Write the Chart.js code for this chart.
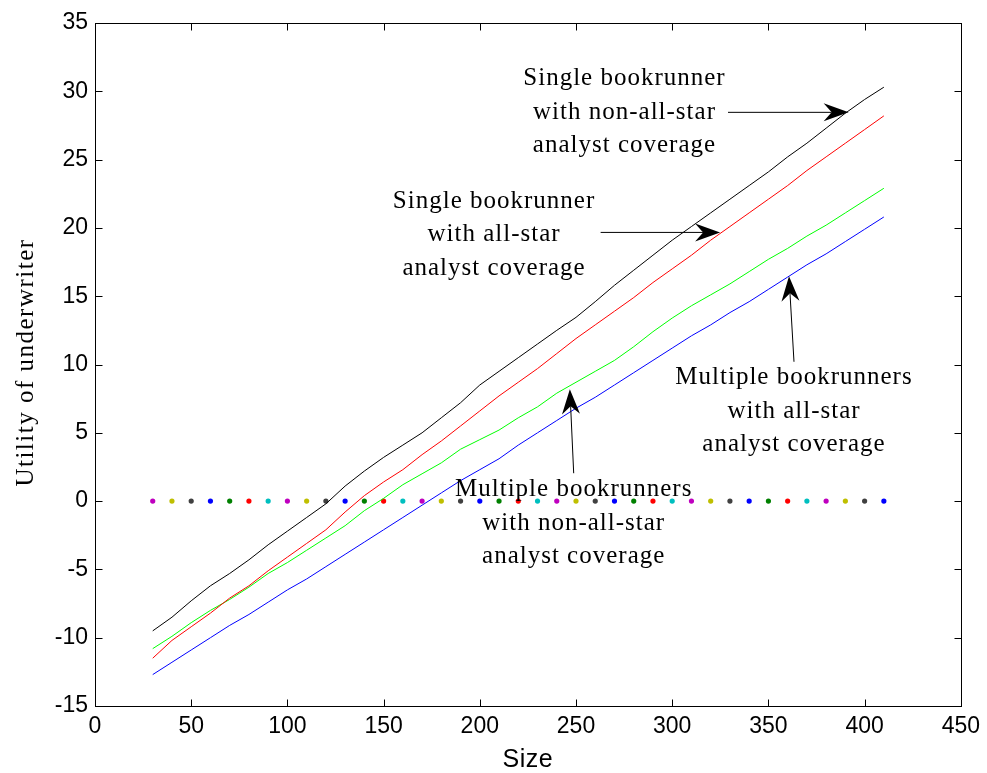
<!DOCTYPE html>
<html>
<head>
<meta charset="utf-8">
<script src="https://cdn.jsdelivr.net/npm/chart.js@4.4.0/dist/chart.umd.min.js"></script>
<style>
  html, body { margin: 0; padding: 0; background: #fff; }
  #wrap { width: 987px; height: 773px; }
</style>
</head>
<body>
<div id="wrap"><canvas id="c" width="987" height="773"></canvas></div>
<script>
// Offering size (x) and utility of the underwriter for each deal structure
const sizes = [30, 40, 50, 60, 70, 80, 90, 100, 110, 120, 130, 140, 150, 160, 170, 180, 190, 200, 210, 220,
               230, 240, 250, 260, 270, 280, 290, 300, 310, 320, 330, 340, 350, 360, 370, 380, 390, 400, 410];

const singleNonAllStar = [-9.5, -8.5, -7.3, -6.2, -5.3, -4.3, -3.2, -2.2, -1.2, -0.2, 1.1, 2.2, 3.2, 4.1, 5.0, 6.1, 7.2, 8.5, 9.5, 10.5,
                          11.5, 12.5, 13.45, 14.6, 15.8, 16.9, 18.0, 19.1, 20.1, 21.1, 22.1, 23.1, 24.1, 25.2, 26.2, 27.3, 28.4, 29.4, 30.3];

const singleAllStar = [-11.5, -10.2, -9.2, -8.2, -7.1, -6.2, -5.1, -4.1, -3.1, -2.1, -0.8, 0.4, 1.4, 2.3, 3.4, 4.4, 5.5, 6.6, 7.7, 8.7,
                       9.7, 10.8, 11.9, 12.9, 13.9, 14.9, 16.0, 17.0, 18.0, 19.1, 20.1, 21.1, 22.1, 23.1, 24.2, 25.2, 26.2, 27.2, 28.2];

const multipleNonAllStar = [-10.8, -9.9, -8.9, -8.0, -7.2, -6.3, -5.3, -4.5, -3.6, -2.7, -1.8, -0.7, 0.2, 1.2, 2.0, 2.8, 3.8, 4.5, 5.2, 6.1,
                            6.9, 7.9, 8.7, 9.5, 10.3, 11.3, 12.4, 13.4, 14.3, 15.1, 15.9, 16.8, 17.7, 18.5, 19.4, 20.2, 21.1, 22.0, 22.9];

const multipleAllStar = [-12.7, -11.8, -10.9, -10.0, -9.1, -8.3, -7.4, -6.5, -5.7, -4.8, -3.9, -3.0, -2.1, -1.2, -0.3, 0.6, 1.5, 2.3, 3.1, 4.1,
                         5.0, 5.9, 6.8, 7.6, 8.5, 9.4, 10.3, 11.2, 12.1, 12.9, 13.8, 14.6, 15.5, 16.4, 17.3, 18.1, 19.0, 19.9, 20.8];

// Break-even reference markers along zero utility
const zeroLine = [0, 0, 0, 0, 0, 0, 0, 0, 0, 0, 0, 0, 0, 0, 0, 0, 0, 0, 0, 0,
                  0, 0, 0, 0, 0, 0, 0, 0, 0, 0, 0, 0, 0, 0, 0, 0, 0, 0, 0];

const xTicks = [0, 50, 100, 150, 200, 250, 300, 350, 400, 450];
const yTicks = [-15, -10, -5, 0, 5, 10, 15, 20, 25, 30, 35];

// Callout texts: lines, text anchor (middle line) and arrow start/tip, all in data units
const callouts = [
  { lines: ['Single bookrunner', 'with non-all-star', 'analyst coverage'], tx: 275.2, ty: 28.46, from: [329.0, 28.46], to: [391.7, 28.46] },
  { lines: ['Single bookrunner', 'with all-star', 'analyst coverage'], tx: 207.4, ty: 19.5, from: [262.8, 19.67], to: [324.9, 19.67] },
  { lines: ['Multiple bookrunners', 'with all-star', 'analyst coverage'], tx: 363.3, ty: 6.57, from: [363.3, 10.2], to: [360.7, 16.46] },
  { lines: ['Multiple bookrunners', 'with non-all-star', 'analyst coverage'], tx: 248.8, ty: -1.63, from: [248.8, 2.04], to: [246.8, 8.19] }
];

const markerCycle = ['#0000ff', '#008000', '#ff0000', '#00bfbf', '#bf00bf', '#bfbf00', '#404040'];

const toPoints = (ys) => sizes.map((s, i) => ({ x: s, y: ys[i] }));

// Inward tick marks on all four sides, frame, axis titles and callouts
const framePlugin = {
  id: 'frame',
  afterDraw(chart) {
    const { ctx, chartArea: a, scales: { x, y } } = chart;
    const L = Math.round(a.left) + 0.5, R = Math.round(a.right) + 0.5;
    const T = Math.round(a.top) + 0.5, B = Math.round(a.bottom) + 0.5;
    ctx.save();
    ctx.strokeStyle = '#000';
    ctx.lineWidth = 1;
    ctx.strokeRect(L, T, R - L, B - T);
    const tl = 7;
    ctx.beginPath();
    xTicks.forEach(v => {
      const px = Math.round(x.getPixelForValue(v)) + 0.5;
      ctx.moveTo(px, B); ctx.lineTo(px, B - tl);
      ctx.moveTo(px, T); ctx.lineTo(px, T + tl);
    });
    yTicks.forEach(v => {
      const py = Math.round(y.getPixelForValue(v)) + 0.5;
      ctx.moveTo(L, py); ctx.lineTo(L + tl, py);
      ctx.moveTo(R, py); ctx.lineTo(R - tl, py);
    });
    ctx.stroke();

    // Axis titles
    ctx.fillStyle = '#000';
    ctx.textAlign = 'center';
    ctx.textBaseline = 'middle';
    ctx.font = '25px "Liberation Sans", Arial, sans-serif';
    ctx.letterSpacing = '0.5px';
    ctx.fillText('Size', (a.left + a.right) / 2, 760);
    ctx.save();
    ctx.translate(26, (a.top + a.bottom) / 2 - 2);
    ctx.rotate(-Math.PI / 2);
    ctx.font = '25px "Liberation Serif", "Times New Roman", serif';
    ctx.letterSpacing = '1.5px';
    ctx.fillText('Utility of underwriter', 0, 0);
    ctx.restore();

    // Callouts
    ctx.font = '25px "Liberation Serif", "Times New Roman", serif';
    ctx.letterSpacing = '1px';
    callouts.forEach(c => {
      const cx = x.getPixelForValue(c.tx);
      const cy = y.getPixelForValue(c.ty);
      c.lines.forEach((t, i) => ctx.fillText(t, cx, cy + (i - 1) * 33.5));
      const x0 = x.getPixelForValue(c.from[0]), y0 = y.getPixelForValue(c.from[1]);
      const x1 = x.getPixelForValue(c.to[0]), y1 = y.getPixelForValue(c.to[1]);
      const len = Math.hypot(x1 - x0, y1 - y0);
      const dx = (x1 - x0) / len, dy = (y1 - y0) / len;
      const px = -dy, py = dx;
      const hl = 25, hw = 9, notch = 8;
      ctx.beginPath();
      ctx.moveTo(x0, y0);
      ctx.lineTo(x1 - dx * (hl - notch), y1 - dy * (hl - notch));
      ctx.stroke();
      ctx.beginPath();
      ctx.moveTo(x1, y1);
      ctx.lineTo(x1 - dx * hl + px * hw, y1 - dy * hl + py * hw);
      ctx.lineTo(x1 - dx * (hl - notch), y1 - dy * (hl - notch));
      ctx.lineTo(x1 - dx * hl - px * hw, y1 - dy * hl - py * hw);
      ctx.closePath();
      ctx.fill();
    });
    ctx.restore();
  }
};

const lineStyle = (color) => ({
  borderColor: color, backgroundColor: color, borderWidth: 1,
  showLine: true, pointRadius: 0, pointHoverRadius: 0, tension: 0, fill: false
});

new Chart(document.getElementById('c'), {
  type: 'scatter',
  data: {
    datasets: [
      Object.assign({ label: 'Single bookrunner, non-all-star', data: toPoints(singleNonAllStar) }, lineStyle('#000000')),
      Object.assign({ label: 'Single bookrunner, all-star', data: toPoints(singleAllStar) }, lineStyle('#ff0000')),
      Object.assign({ label: 'Multiple bookrunners, non-all-star', data: toPoints(multipleNonAllStar) }, lineStyle('#00ff00')),
      Object.assign({ label: 'Multiple bookrunners, all-star', data: toPoints(multipleAllStar) }, lineStyle('#0000ff')),
      {
        label: 'Zero utility',
        data: toPoints(zeroLine),
        showLine: false,
        pointRadius: 2.6,
        pointBorderWidth: 0,
        pointBackgroundColor: sizes.map(s => markerCycle[(s / 10 + 1) % 7]),
        pointBorderColor: sizes.map(s => markerCycle[(s / 10 + 1) % 7])
      }
    ]
  },
  options: {
    responsive: false,
    animation: false,
    events: [],
    layout: { padding: { top: 23, right: 22, left: 0, bottom: 0 } },
    plugins: { legend: { display: false }, tooltip: { enabled: false } },
    scales: {
      x: {
        type: 'linear', min: 0, max: 450,
        afterFit: (s) => { s.height = 67; },
        afterBuildTicks: (s) => { s.ticks = xTicks.map(v => ({ value: v })); },
        grid: { display: false, drawTicks: false },
        border: { display: false },
        ticks: { color: '#000', padding: 7, maxRotation: 0, font: { family: '"Liberation Sans", Arial, sans-serif', size: 23 } }
      },
      y: {
        type: 'linear', min: -15, max: 35,
        afterFit: (s) => { s.width = 95; },
        afterBuildTicks: (s) => { s.ticks = yTicks.map(v => ({ value: v })); },
        grid: { display: false, drawTicks: false },
        border: { display: false },
        ticks: { color: '#000', padding: 7, font: { family: '"Liberation Sans", Arial, sans-serif', size: 23 } }
      }
    }
  },
  plugins: [framePlugin]
});
</script>
</body>
</html>
